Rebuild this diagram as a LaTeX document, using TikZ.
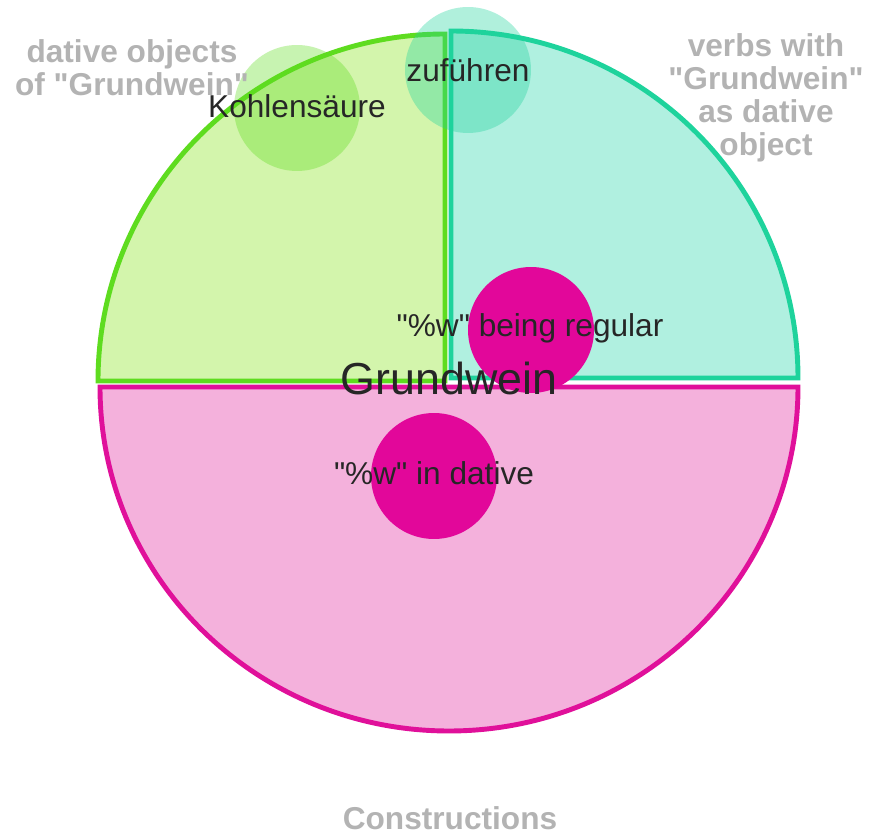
\documentclass[tikz,border=0pt]{standalone}
\usepackage{fontspec}
\setmainfont{Liberation Sans}
\usetikzlibrary{positioning}
\definecolor{limeline}{HTML}{5EDC1F}
\definecolor{limefill}{HTML}{D3F5AC}
\definecolor{tealline}{HTML}{1ED39C}
\definecolor{tealfill}{HTML}{B0F0E0}
\definecolor{pinkline}{HTML}{E0109A}
\definecolor{pinkfill}{HTML}{F4B1DC}
\definecolor{bubblepink}{HTML}{E2079A}
\definecolor{capgray}{HTML}{B3B3B3}
\newcommand{\q}{\textquotedbl}
\tikzset{
  sector/.style={line width=2.8pt, line join=miter},
  bubble/.style={circle, minimum size=2.52cm, inner sep=0pt, fill=#1},
  item/.style={font=\fontsize{18}{20}\selectfont, text=black!85},
  cat/.style={font=\bfseries\fontsize{18}{18.7}\selectfont, text=capgray, align=center},
}
\begin{document}
\begin{tikzpicture}[x=0.02cm, y=0.02cm]
  \useasboundingbox (0,0) rectangle (870,836);
  %% quadrants
  \draw[sector, draw=limeline, fill=limefill]
    (445,455) -- (98,455) arc[start angle=180, end angle=90, radius=347] -- cycle;
  \draw[sector, draw=tealline, fill=tealfill]
    (451,458) -- (451,805) arc[start angle=90, end angle=0, radius=347] -- cycle;
  \draw[sector, draw=pinkline, fill=pinkfill]
    (100,449) -- (798,449) arc[start angle=0, end angle=-180, x radius=349, y radius=344] -- cycle;
  %% bubbles
  \node[bubble=limeline, fill opacity=0.35] (kohle) at (297,728) {};
  \node[bubble=tealline, fill opacity=0.35] (zufuehren) at (468,766) {};
  \node[bubble=bubblepink] (regular) at (531,506) {};
  \node[bubble=bubblepink] (dative) at (434,360) {};
  %% labels
  \node[item] (kohlelbl) at (297,730) {Kohlensäure};
  \node[item] (zufuehrenlbl) at (468,766) {zuführen};
  \node[item] (regularlbl) at (530,508) {\q\%w\q{} being regular};
  \node[item] (dativelbl) at (434,363) {\q\%w\q{} in dative};
  \node[font=\fontsize{25.5}{28}\selectfont, text=black!85] (center) at (449,458) {Grundwein};
  %% categories
  \node[cat] (catdat) at (132,768) {dative objects\\of \q Grundwein\q};
  \node[cat] (catverb) at (766,738) {verbs with\\\q Grundwein\q\\as dative\\object};
  \node[cat] (catcons) at (450,18) {Constructions};
\end{tikzpicture}
\end{document}
